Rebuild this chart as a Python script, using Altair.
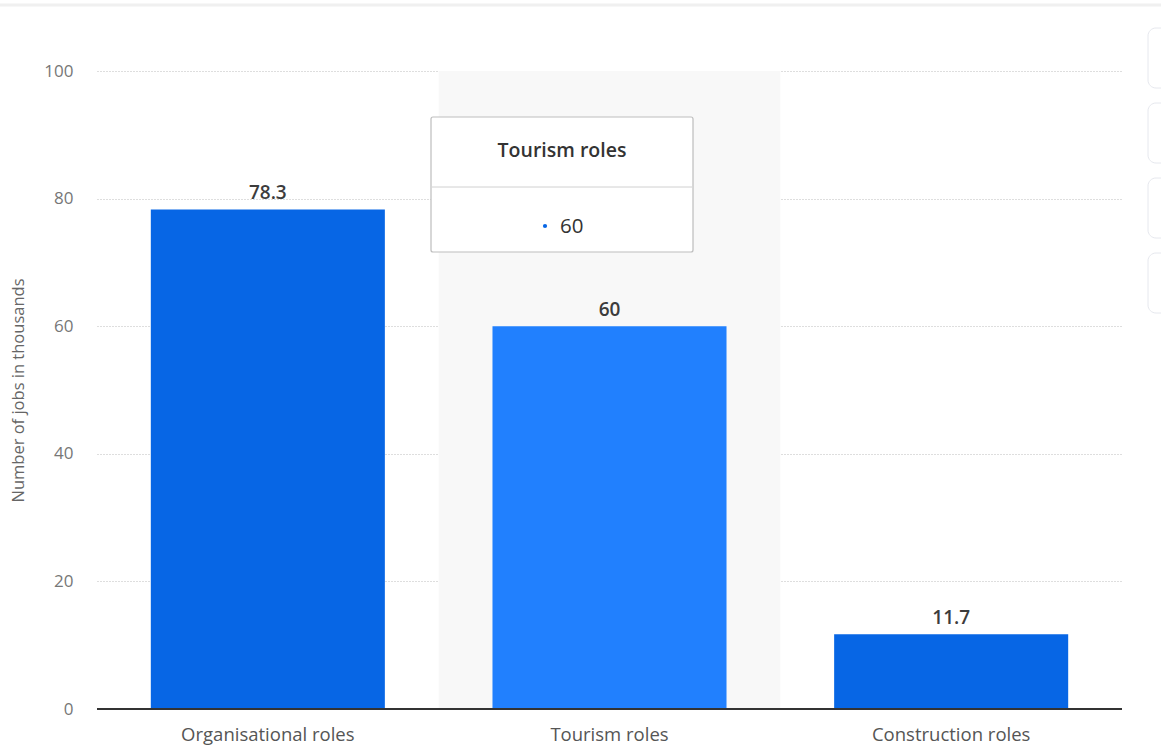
import altair as alt
import pandas as pd

# Jobs by role type (thousands)
roles = ["Organisational roles", "Tourism roles", "Construction roles"]
jobs = [78.3, 60, 11.7]
highlighted = "Tourism roles"

y_ticks = [0, 20, 40, 60, 80, 100]

FONT = "Open Sans"
BLUE = "#0766e5"
BLUE_HOVER = "#2180fe"
PAD_INNER = 0.315

df = pd.DataFrame({
    "role": roles,
    "jobs": jobs,
    "label": [f"{v:g}" for v in jobs],
    "hover": [r == highlighted for r in roles],
})
hover_df = df[df["hover"]].copy()

x_scale = alt.Scale(paddingInner=PAD_INNER, paddingOuter=PAD_INNER / 2)
y_scale = alt.Scale(domain=[0, 100], nice=False)
y_title = "Number of jobs in thousands"

# hovered category band spans the full step of the category
band = alt.Chart(hover_df).mark_bar(
    color="#f8f8f8", opacity=1, width=alt.RelativeBandSize(1 / (1 - PAD_INNER))
).encode(
    x=alt.X("role:N", sort=roles, scale=x_scale, title=None),
    y=alt.Y(datum=100, scale=y_scale, title=y_title, axis=alt.Axis(values=y_ticks)),
    y2=alt.Y2(datum=0),
)

bars = alt.Chart(df).mark_bar().encode(
    x=alt.X("role:N", sort=roles, scale=x_scale, title=None),
    y=alt.Y("jobs:Q", scale=y_scale, title=y_title, axis=alt.Axis(values=y_ticks)),
    color=alt.condition(alt.datum.hover, alt.value(BLUE_HOVER), alt.value(BLUE)),
)

labels = alt.Chart(df).mark_text(
    font=FONT, fontSize=19, fontWeight=600, color="#3c3c3c", dy=-16.5
).encode(
    x=alt.X("role:N", sort=roles, title=None),
    y=alt.Y("jobs:Q", scale=y_scale, title=y_title),
    text="label:N",
)

# dark baseline at zero
baseline = alt.Chart(pd.DataFrame({"z": [0]})).mark_rule(
    color="#333333", strokeWidth=2
).encode(y=alt.Y("z:Q", scale=y_scale, title=y_title), x=alt.value(0), x2=alt.value(1025))

# thin separator along the top of the page
top_bar = alt.Chart(pd.DataFrame({"a": [0]})).mark_rule(
    color="#f0f0f0", strokeWidth=3
).encode(x=alt.value(-97), x2=alt.value(1064), y=alt.value(-66))

# side toolbar buttons
btn_df = pd.DataFrame({"y0": [-43, 32, 107, 182], "y1": [17, 92, 167, 242]})
buttons = alt.Chart(btn_df).mark_rect(
    fill="white", stroke="#e6e8ee", strokeWidth=1, cornerRadius=8
).encode(
    x=alt.value(1051), x2=alt.value(1075),
    y=alt.Y("y0:Q", scale=None), y2="y1:Q",
)

# tooltip card for the hovered category
tip_box = alt.Chart(pd.DataFrame({"a": [0]})).mark_rect(
    fill="white", stroke="#bdbdbd", strokeWidth=1.2, cornerRadius=2
).encode(x=alt.value(334), x2=alt.value(596), y=alt.value(46), y2=alt.value(181))
tip_div = alt.Chart(pd.DataFrame({"a": [0]})).mark_rule(
    color="#d0d0d0", strokeWidth=1
).encode(x=alt.value(335), x2=alt.value(595), y=alt.value(116))
tip_title = alt.Chart(hover_df).mark_text(
    font=FONT, fontSize=19.5, fontWeight=600, color="#333333"
).encode(x=alt.value(465), y=alt.value(80), text="role:N")
tip_dot = alt.Chart(hover_df).mark_point(
    filled=True, size=18, color=BLUE, opacity=1
).encode(x=alt.value(448), y=alt.value(155))
tip_value = alt.Chart(hover_df).mark_text(
    font=FONT, fontSize=20.5, fontWeight=500, color="#333333", align="left"
).encode(x=alt.value(463), y=alt.value(156), text="label:N")

chart = alt.layer(
    top_bar, band, bars, baseline, labels, buttons,
    tip_box, tip_div, tip_title, tip_dot, tip_value,
).properties(
    width=1025,
    height=638,
    background="white",
    autosize=alt.AutoSizeParams(type="none"),
    padding={"left": 97, "top": 71, "right": 39, "bottom": 38},
).configure_view(
    stroke="transparent"
).configure_axis(
    ticks=False,
    domain=False,
    labelFont=FONT,
    titleFont=FONT,
).configure_axisX(
    labelAngle=0,
    labelAlign="center",
    labelFontSize=18.5,
    labelColor="#555555",
    labelPadding=16,
    grid=False,
).configure_axisY(
    labelFontSize=17,
    labelColor="#777777",
    labelPadding=24,
    titleFontSize=16.5,
    titleFontWeight="normal",
    titleColor="#666666",
    titlePadding=17,
    grid=True,
    gridColor="#bdbdbd",
    gridDash=[1, 2],
    gridWidth=1,
)

chart.save("out.html", embed_options={"renderer": "svg", "actions": False})
